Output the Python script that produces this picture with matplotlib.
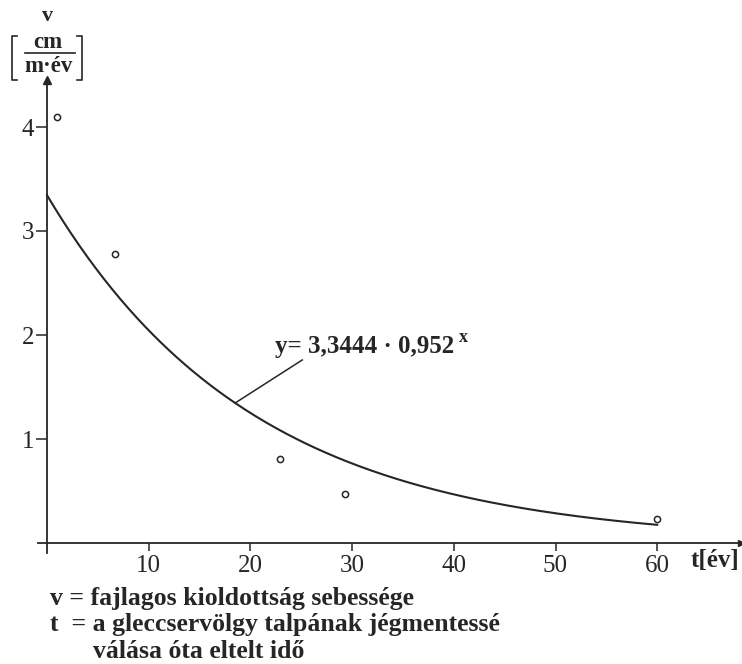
import numpy as np
import matplotlib
matplotlib.use("Agg")
import matplotlib.pyplot as plt
from matplotlib.lines import Line2D

# ---- data ----
t_obs = [1.0, 6.7, 22.9, 29.3, 60.0]
v_obs = [4.10, 2.78, 0.81, 0.47, 0.23]
a_coef = 3.3444
b_coef = 0.952
x_ticks = [10, 20, 30, 40, 50, 60]
y_ticks = [1, 2, 3, 4]
fit_label = "y= 3,3444 · 0,952"
legend_lines = ["v = fajlagos kioldottság sebessége",
                "t  = a gleccservölgy talpának jégmentessé",
                "válása óta eltelt idő"]

INK = "#262626"
SERIF = ["Liberation Serif", "DejaVu Serif"]
plt.rcParams['font.family'] = SERIF

W, H = 742, 664
fig = plt.figure(figsize=(W / 100, H / 100), dpi=100)
fig.patch.set_facecolor("white")

# layout in pixels
x0px, sx = 47, 10.17      # px at t=0, px per unit
y0px, sy = 543, 104       # px at v=0, px per unit
L, R, T, B = 38, 741, 80, 553
ax = fig.add_axes([L / W, (H - B) / H, (R - L) / W, (B - T) / H])
ax.set_xlim((L - x0px) / sx, (R - x0px) / sx)
ax.set_ylim((y0px - B) / sy, (y0px - T) / sy)
ax.set_facecolor("none")

for s in ["top", "right"]:
    ax.spines[s].set_visible(False)
ax.spines["left"].set_position(("data", 0))
ax.spines["bottom"].set_position(("data", 0))
for s in ["left", "bottom"]:
    ax.spines[s].set_color(INK)
    ax.spines[s].set_linewidth(1.3)

# arrow heads
ax.plot(0, 1, marker="^", color=INK, markersize=6, transform=ax.get_xaxis_transform(), clip_on=False)
ax.plot(1, 0, marker=">", color=INK, markersize=5, transform=ax.get_yaxis_transform(), clip_on=False)

ax.set_xticks(x_ticks)
ax.set_yticks(y_ticks)
ax.set_xticklabels([str(v) for v in x_ticks])
ax.set_yticklabels([str(v) for v in y_ticks])
ax.tick_params(axis="x", direction="out", length=6, width=1.1, color=INK, pad=3,
               labelsize=18, labelcolor=INK)
ax.tick_params(axis="y", direction="out", length=8, width=1.1, color=INK, pad=1,
               labelsize=18, labelcolor=INK)

# fitted curve
xs = np.linspace(0, 60, 300)
ax.plot(xs, a_coef * b_coef ** xs, color=INK, lw=1.5)

# observed points
ax.scatter(t_obs, v_obs, s=20, facecolors="white", edgecolors=INK, linewidths=1.1, zorder=3)

# annotation with leader line
lx = 18.5
ax.plot([lx, 25.1], [a_coef * b_coef ** lx, 1.76], color=INK, lw=1.1)
ax.text(22.4, 1.83, fit_label, fontsize=18, fontweight="bold", color=INK,
        ha="left", va="baseline")
ax.text(40.5, 1.93, "x", fontsize=13, fontweight="bold", color=INK, ha="left", va="baseline")

# axis label for t
fig.text(691 / W, 1 - 561 / H, "t[év]", fontsize=18, fontweight="bold", color=INK,
         ha="left", va="center")

# y axis unit label
fig.text(48 / W, 1 - 16 / H, "v", fontsize=16, fontweight="bold", color=INK, ha="center", va="center")
fig.text(48 / W, 1 - 42 / H, "cm", fontsize=16.5, fontweight="bold", color=INK, ha="center", va="center")
fig.text(49 / W, 1 - 67 / H, "m·év", fontsize=16.5, fontweight="bold", color=INK, ha="center", va="center")
def fl(xpx, ypx, **kw):
    fig.add_artist(Line2D([x / W for x in xpx], [1 - y / H for y in ypx],
                          color=INK, lw=1.2, **kw))
fl([25, 75], [53, 53])
fl([17, 12, 12, 17], [36, 36, 80, 80])
fl([77, 82, 82, 77], [36, 36, 80, 80])

# legend text lines
xs_leg = [50, 50, 93]
ys = [599, 625, 651]
for txt, x, y in zip(legend_lines, xs_leg, ys):
    fig.text(x / W, 1 - y / H, txt, fontsize=18.5, fontweight="bold", color=INK,
             ha="left", va="center")

fig.savefig("out.png", dpi=100, facecolor="white")
